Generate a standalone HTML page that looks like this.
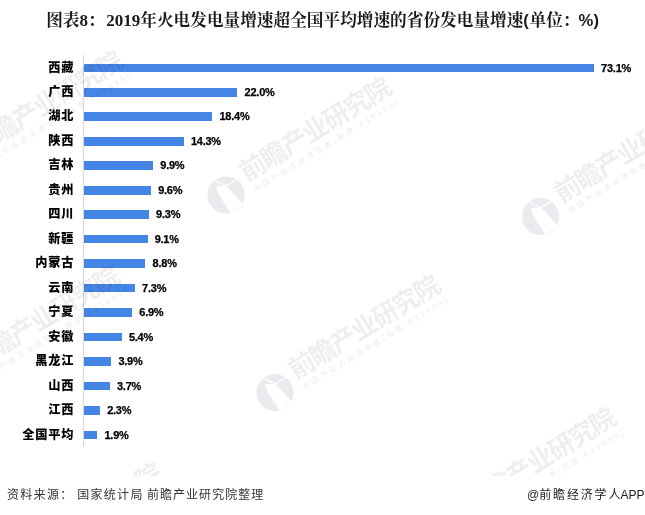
<!DOCTYPE html>
<html lang="zh-CN"><head><meta charset="utf-8"><title>图表8</title>
<style>
html,body{margin:0;padding:0;background:#fff;}
body{width:645px;height:515px;position:relative;overflow:hidden;font-family:"Liberation Sans","Noto Sans CJK SC",sans-serif;}
.title{position:absolute;left:46.2px;top:8.5px;height:24px;line-height:24px;font-family:"Liberation Serif","Noto Serif CJK SC",serif;font-weight:700;font-size:16.67px;color:#1a1a1a;white-space:nowrap;}
.title .s{font-family:"Liberation Sans","Noto Sans CJK SC",sans-serif;}
.title .d{font-size:17px;}
.axis{position:absolute;left:83px;top:55px;width:1px;height:392px;background:#d8d8d8;}
.lab{position:absolute;left:0;width:74.3px;height:20px;line-height:20px;text-align:right;font-family:"Liberation Sans","Noto Sans CJK SC",sans-serif;font-weight:900;font-size:12.2px;letter-spacing:0.8px;color:#000;white-space:nowrap;}
.bar{position:absolute;left:84px;height:8.5px;background:#4585e6;}
.val{position:absolute;height:20px;line-height:20px;font-family:"Liberation Sans",sans-serif;font-weight:700;font-size:11px;letter-spacing:-0.25px;color:#000;-webkit-text-stroke:0.25px #000;white-space:nowrap;}
.wm{pointer-events:none;position:absolute;left:0;top:0;width:645px;height:476px;overflow:hidden;font-family:"Liberation Sans","Noto Sans CJK SC",sans-serif;}
.src{position:absolute;left:7px;top:484.5px;height:20px;line-height:20px;font-size:12px;letter-spacing:1.3px;color:#333;white-space:nowrap;}
.app{position:absolute;right:0.5px;top:484.5px;height:20px;line-height:20px;font-size:12px;letter-spacing:0;color:#222;white-space:nowrap;}
</style></head><body>
<div class="title">图表<span class="d">8</span><span style="letter-spacing:1.6px">：</span><span class="d">2019</span>年火电发电量增速超全国平均增速的省份发电量增速<span class="s" style="letter-spacing:0.6px">(</span>单位<span style="letter-spacing:-0.9px">：</span><span class="s">%)</span></div>
<div class="axis"></div>
<div class="lab" style="top:57.75px">西藏</div><div class="bar" style="top:64px;height:8px;width:509.9px"></div><div class="val" style="top:57.75px;left:601.1px">73.1%</div>
<div class="lab" style="top:82.25px">广西</div><div class="bar" style="top:88px;height:9px;width:153.4px"></div><div class="val" style="top:82.25px;left:244.6px">22.0%</div>
<div class="lab" style="top:106.25px">湖北</div><div class="bar" style="top:112px;height:9px;width:128.3px"></div><div class="val" style="top:106.25px;left:219.5px">18.4%</div>
<div class="lab" style="top:131.25px">陕西</div><div class="bar" style="top:137px;height:9px;width:99.7px"></div><div class="val" style="top:131.25px;left:190.9px">14.3%</div>
<div class="lab" style="top:155.25px">吉林</div><div class="bar" style="top:161px;height:9px;width:69.1px"></div><div class="val" style="top:155.25px;left:160.3px">9.9%</div>
<div class="lab" style="top:180.25px">贵州</div><div class="bar" style="top:186px;height:9px;width:67.0px"></div><div class="val" style="top:180.25px;left:158.2px">9.6%</div>
<div class="lab" style="top:204.25px">四川</div><div class="bar" style="top:210px;height:9px;width:64.9px"></div><div class="val" style="top:204.25px;left:156.1px">9.3%</div>
<div class="lab" style="top:228.75px">新疆</div><div class="bar" style="top:235px;height:8px;width:63.5px"></div><div class="val" style="top:228.75px;left:154.7px">9.1%</div>
<div class="lab" style="top:253.25px">内蒙古</div><div class="bar" style="top:259px;height:9px;width:61.4px"></div><div class="val" style="top:253.25px;left:152.6px">8.8%</div>
<div class="lab" style="top:277.75px">云南</div><div class="bar" style="top:284px;height:8px;width:50.9px"></div><div class="val" style="top:277.75px;left:142.1px">7.3%</div>
<div class="lab" style="top:302.25px">宁夏</div><div class="bar" style="top:308px;height:9px;width:48.1px"></div><div class="val" style="top:302.25px;left:139.3px">6.9%</div>
<div class="lab" style="top:326.75px">安徽</div><div class="bar" style="top:333px;height:8px;width:37.7px"></div><div class="val" style="top:326.75px;left:128.9px">5.4%</div>
<div class="lab" style="top:351.25px">黑龙江</div><div class="bar" style="top:357px;height:9px;width:27.2px"></div><div class="val" style="top:351.25px;left:118.4px">3.9%</div>
<div class="lab" style="top:375.75px">山西</div><div class="bar" style="top:382px;height:8px;width:25.8px"></div><div class="val" style="top:375.75px;left:117.0px">3.7%</div>
<div class="lab" style="top:400.25px">江西</div><div class="bar" style="top:406px;height:9px;width:16.0px"></div><div class="val" style="top:400.25px;left:107.2px">2.3%</div>
<div class="lab" style="top:424.75px">全国平均</div><div class="bar" style="top:431px;height:8px;width:13.3px"></div><div class="val" style="top:424.75px;left:104.5px">1.9%</div>
<svg class="wm" width="645" height="476" viewBox="0 0 645 476">
<g transform="translate(-45,167)">
<g transform="translate(2.4,1.6)"><path fill-rule="evenodd" d="M-18.6,0 A18.6,18.6 0 1,0 18.6,0 A18.6,18.6 0 1,0 -18.6,0 Z M-8.7,-8.7 L0.25,-8.9 L17,9.1 L5.2,19 L-6.6,0.4 L-9.7,-5.8 Z" fill="#23375f" fill-opacity="0.1"/>
<path d="M-11.5,-14.2 L0.6,-9 L11.8,-16" fill="none" stroke="#ffffff" stroke-width="1.1"/></g>
<g transform="rotate(-31.5)">
<text x="25.7" y="2.5" font-size="26" font-weight="700" letter-spacing="-1.6" fill="#000" fill-opacity="0.066">前瞻产业研究院</text>
<text x="28" y="15.5" font-size="7.5" textLength="168" lengthAdjust="spacing" fill="#000" fill-opacity="0.09">中国产业咨询领导者(股票:839599)</text>
</g></g>
<g transform="translate(223.6,193.4)">
<g transform="translate(2.4,1.6)"><path fill-rule="evenodd" d="M-18.6,0 A18.6,18.6 0 1,0 18.6,0 A18.6,18.6 0 1,0 -18.6,0 Z M-8.7,-8.7 L0.25,-8.9 L17,9.1 L5.2,19 L-6.6,0.4 L-9.7,-5.8 Z" fill="#23375f" fill-opacity="0.1"/>
<path d="M-11.5,-14.2 L0.6,-9 L11.8,-16" fill="none" stroke="#ffffff" stroke-width="1.1"/></g>
<g transform="rotate(-31.5)">
<text x="25.7" y="2.5" font-size="26" font-weight="700" letter-spacing="-1.6" fill="#000" fill-opacity="0.066">前瞻产业研究院</text>
<text x="28" y="15.5" font-size="7.5" textLength="168" lengthAdjust="spacing" fill="#000" fill-opacity="0.09">中国产业咨询领导者(股票:839599)</text>
</g></g>
<g transform="translate(538.2,214.9)">
<g transform="translate(2.4,1.6)"><path fill-rule="evenodd" d="M-18.6,0 A18.6,18.6 0 1,0 18.6,0 A18.6,18.6 0 1,0 -18.6,0 Z M-8.7,-8.7 L0.25,-8.9 L17,9.1 L5.2,19 L-6.6,0.4 L-9.7,-5.8 Z" fill="#23375f" fill-opacity="0.1"/>
<path d="M-11.5,-14.2 L0.6,-9 L11.8,-16" fill="none" stroke="#ffffff" stroke-width="1.1"/></g>
<g transform="rotate(-31.5)">
<text x="25.7" y="2.5" font-size="26" font-weight="700" letter-spacing="-1.6" fill="#000" fill-opacity="0.066">前瞻产业研究院</text>
<text x="28" y="15.5" font-size="7.5" textLength="168" lengthAdjust="spacing" fill="#000" fill-opacity="0.09">中国产业咨询领导者(股票:839599)</text>
</g></g>
<g transform="translate(-48,382)">
<g transform="translate(2.4,1.6)"><path fill-rule="evenodd" d="M-18.6,0 A18.6,18.6 0 1,0 18.6,0 A18.6,18.6 0 1,0 -18.6,0 Z M-8.7,-8.7 L0.25,-8.9 L17,9.1 L5.2,19 L-6.6,0.4 L-9.7,-5.8 Z" fill="#23375f" fill-opacity="0.1"/>
<path d="M-11.5,-14.2 L0.6,-9 L11.8,-16" fill="none" stroke="#ffffff" stroke-width="1.1"/></g>
<g transform="rotate(-31.5)">
<text x="25.7" y="2.5" font-size="26" font-weight="700" letter-spacing="-1.6" fill="#000" fill-opacity="0.066">前瞻产业研究院</text>
<text x="28" y="15.5" font-size="7.5" textLength="168" lengthAdjust="spacing" fill="#000" fill-opacity="0.09">中国产业咨询领导者(股票:839599)</text>
</g></g>
<g transform="translate(272.6,391)">
<g transform="translate(2.4,1.6)"><path fill-rule="evenodd" d="M-18.6,0 A18.6,18.6 0 1,0 18.6,0 A18.6,18.6 0 1,0 -18.6,0 Z M-8.7,-8.7 L0.25,-8.9 L17,9.1 L5.2,19 L-6.6,0.4 L-9.7,-5.8 Z" fill="#23375f" fill-opacity="0.1"/>
<path d="M-11.5,-14.2 L0.6,-9 L11.8,-16" fill="none" stroke="#ffffff" stroke-width="1.1"/></g>
<g transform="rotate(-31.5)">
<text x="25.7" y="2.5" font-size="26" font-weight="700" letter-spacing="-1.6" fill="#000" fill-opacity="0.066">前瞻产业研究院</text>
<text x="28" y="15.5" font-size="7.5" textLength="168" lengthAdjust="spacing" fill="#000" fill-opacity="0.09">中国产业咨询领导者(股票:839599)</text>
</g></g>
<g transform="translate(448.5,523.5)">
<g transform="translate(2.4,1.6)"><path fill-rule="evenodd" d="M-18.6,0 A18.6,18.6 0 1,0 18.6,0 A18.6,18.6 0 1,0 -18.6,0 Z M-8.7,-8.7 L0.25,-8.9 L17,9.1 L5.2,19 L-6.6,0.4 L-9.7,-5.8 Z" fill="#23375f" fill-opacity="0.1"/>
<path d="M-11.5,-14.2 L0.6,-9 L11.8,-16" fill="none" stroke="#ffffff" stroke-width="1.1"/></g>
<g transform="rotate(-31.5)">
<text x="25.7" y="2.5" font-size="26" font-weight="700" letter-spacing="-1.6" fill="#000" fill-opacity="0.066">前瞻产业研究院</text>
<text x="28" y="15.5" font-size="7.5" textLength="168" lengthAdjust="spacing" fill="#000" fill-opacity="0.09">中国产业咨询领导者(股票:839599)</text>
</g></g>
<g transform="translate(-5.8,579)">
<g transform="translate(2.4,1.6)"><path fill-rule="evenodd" d="M-18.6,0 A18.6,18.6 0 1,0 18.6,0 A18.6,18.6 0 1,0 -18.6,0 Z M-8.7,-8.7 L0.25,-8.9 L17,9.1 L5.2,19 L-6.6,0.4 L-9.7,-5.8 Z" fill="#23375f" fill-opacity="0.1"/>
<path d="M-11.5,-14.2 L0.6,-9 L11.8,-16" fill="none" stroke="#ffffff" stroke-width="1.1"/></g>
<g transform="rotate(-31.5)">
<text x="25.7" y="2.5" font-size="26" font-weight="700" letter-spacing="-1.6" fill="#000" fill-opacity="0.066">前瞻产业研究院</text>
<text x="28" y="15.5" font-size="7.5" textLength="168" lengthAdjust="spacing" fill="#000" fill-opacity="0.09">中国产业咨询领导者(股票:839599)</text>
</g></g>
</svg>
<div class="src">资料来源<span style="letter-spacing:5px">：</span>国家统计局<span style="letter-spacing:-0.2px"> </span><span style="letter-spacing:1.05px">前瞻产业研究院整理</span></div>
<div class="app">@<span style="letter-spacing:1.85px">前瞻经济学</span>人APP</div>
</body></html>
